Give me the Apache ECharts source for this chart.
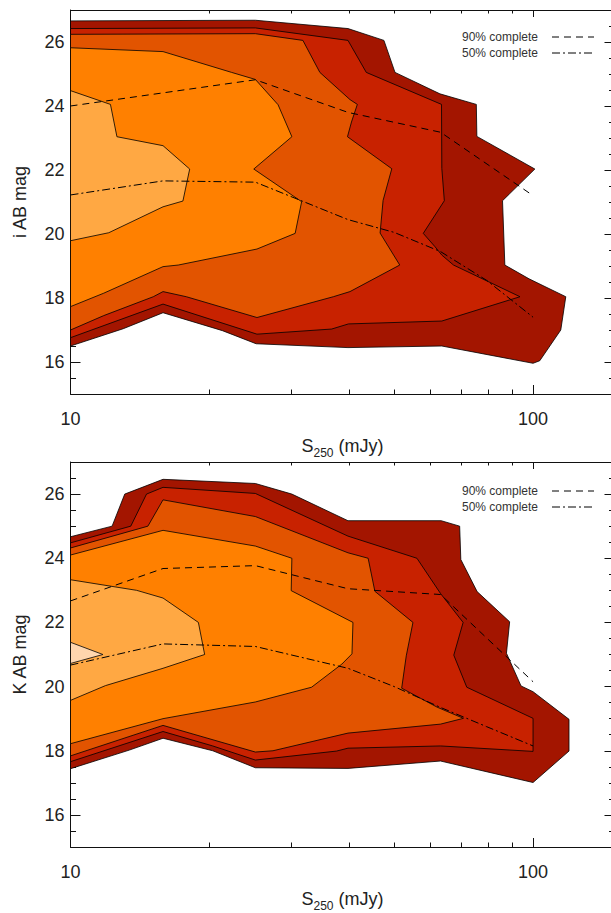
<!DOCTYPE html>
<html><head><meta charset="utf-8">
<script src="https://cdn.jsdelivr.net/npm/echarts@6/dist/echarts.min.js"></script>
<style>html,body{margin:0;padding:0;background:#fff}#c{width:611px;height:913px}</style>
</head><body><div id="c"></div>
<script>
// ---------- data (S250 in mJy, magnitude) ----------
const xLabelValues = [10, 100];
const xMinorTicks = [20, 30, 40, 50, 60, 70, 80, 90];
const yLabelValues = [16, 18, 20, 22, 24, 26];
const yMinorTicks = [15.5, 16.5, 17, 17.5, 18.5, 19, 19.5, 20.5, 21, 21.5, 22.5, 23, 23.5, 24.5, 25, 25.5, 26.5];
const xTitle = '{m|S}{s|250}{m| (mJy)}';
const yTitleTop = 'i AB mag';
const yTitleBottom = 'K AB mag';
const legendNames = ['90% complete', '50% complete'];

// i-band filled contour levels (outermost first)
const iLevel1 = [[10,26.66],[25.1,26.68],[39.8,26.42],[47.6,26.05],[50.3,25.05],[62.9,24.38],[75.4,24.05],[75.6,23.05],[100.9,22.03],[85.9,21.04],[86.9,19.03],[98,18.6],[117.7,18.04],[114.8,17.0],[103.4,16.04],[100,15.96],[63.5,16.5],[39.8,16.45],[25.2,16.57],[21.3,16.98],[15.85,17.54],[13.0,17.04],[10,16.5]];
const iLevel2 = [[10,26.42],[25.1,26.44],[39.8,26.05],[43.6,25.05],[63.4,24.05],[63.5,22.05],[64.3,21.04],[57.9,20.02],[61.4,19.6],[63.5,19.34],[67.3,19.03],[93.7,18.04],[63.5,17.28],[39.9,17.19],[36.7,17.03],[25.3,16.87],[15.85,17.81],[10,16.76]];
const iLevel3 = [[10,26.24],[25.1,26.26],[31.8,26.05],[34.6,25.05],[40.2,24.2],[41.7,24.05],[40.5,23.5],[39.7,23.04],[49.5,22.04],[47.4,21.05],[46.7,20.03],[51.5,19.03],[40.2,18.2],[37.0,18.04],[25.3,17.39],[17.8,18.04],[15.85,18.2],[15.1,18.04],[11.8,17.45],[10,17.0]];
const iLevel4 = [[10,25.82],[15.85,25.7],[22.3,25.05],[25.1,24.83],[28.1,24.04],[30.1,23.04],[24.9,22.03],[31.6,21.01],[30.6,20.02],[25.3,19.53],[17.1,19.03],[15.85,18.98],[11.8,18.15],[10,17.73]];
const iLevel5 = [[10,24.48],[12.2,24.05],[12.6,23.04],[15.85,22.76],[18.1,22.03],[17.5,21.03],[15.85,20.85],[12.1,20.04],[10,19.79]];
const iComplete90 = [[10,24.0],[25.1,24.82],[39.8,23.8],[63.1,23.18],[100,21.2]];
const iComplete50 = [[10,21.22],[15.85,21.66],[25.1,21.62],[39.8,20.45],[50.1,20.05],[63.1,19.45],[79.4,18.55],[100,17.4]];

// K-band filled contour levels (outermost first)
const kLevel1 = [[10,24.67],[12.3,25.0],[13.1,26.0],[15.85,26.46],[25.1,26.33],[30.1,26.0],[39.8,25.17],[63.3,25.17],[69.4,25.0],[69.8,23.96],[75.7,22.96],[89.0,22.02],[87.6,21.04],[94.2,20.02],[100,19.84],[119.6,18.98],[119.6,17.99],[100,17.01],[63.1,17.68],[39.8,17.45],[25.1,17.47],[20.3,18.0],[15.85,18.39],[13.4,18.02],[10,17.44]];
const kLevel2 = [[10,24.48],[13.5,25.0],[14.6,26.0],[15.85,26.21],[25.1,26.02],[39.8,24.69],[56.1,24.0],[63.1,22.9],[70.6,22.0],[67.4,20.98],[71.9,19.98],[100,19.01],[100,17.98],[63.1,18.15],[39.8,18.08],[37.6,17.99],[25.1,17.71],[20.3,18.15],[15.85,18.6],[10,17.66]];
const kLevel3 = [[10,24.32],[14.7,25.0],[15.85,25.82],[25.1,25.3],[39.8,24.17],[44.0,24.0],[45.5,22.97],[55.0,22.0],[53.2,20.96],[52.0,19.95],[62.0,19.36],[70.7,19.01],[63.1,18.83],[39.8,18.55],[27.4,18.0],[25.1,17.96],[15.85,18.79],[10,17.84]];
const kLevel4 = [[10,24.1],[15.85,24.87],[25.1,24.38],[30.1,24.0],[30.0,22.99],[40.8,22.0],[40.6,21.02],[38.6,20.7],[33.2,19.98],[25.1,19.52],[15.85,19.0],[10,18.22]];
const kLevel5 = [[10,23.33],[13.9,23.0],[15.85,22.76],[18.9,22.0],[19.5,21.0],[15.85,20.57],[11.9,20.03],[10,19.57]];
const kLevel6 = [[10,21.38],[11.75,21.0],[10,20.72]];
const kComplete90 = [[10,22.67],[15.85,23.68],[25.1,23.77],[39.8,23.05],[63.1,22.87],[100,20.15]];
const kComplete50 = [[10,20.67],[15.85,21.33],[25.1,21.25],[39.8,20.57],[50.1,20.0],[63.1,19.35],[79.4,18.75],[100,18.15]];

// ---------- styling ----------
const levelColors = ['#a31500', '#c82200', '#e25400', '#ff8000', '#ffa843', '#ffd6ae'];
const FONT = 'Liberation Sans, Arial, Helvetica, sans-serif';
const TXT = '#222';
const dash90 = [7, 5];
const dash50 = [8, 3, 2, 3];

const grids = [
  {left: 70.5, top: 10, width: 544, height: 384},
  {left: 70.5, top: 462, width: 544, height: 385}
];

const xAxes = [], yAxes = [], series = [];

function addAxes(gi, yTitle) {
  const base = {gridIndex: gi, type: 'log', logBase: 10, min: 10, max: 150, splitLine: {show: false}, minorTick: {show: false}};
  xAxes.push(Object.assign({}, base, {
    position: 'bottom',
    axisLine: {show: true, onZero: false, lineStyle: {color: '#111', width: 1}},
    axisTick: {show: true, inside: true, length: 9, customValues: xLabelValues, lineStyle: {color: '#111'}},
    axisLabel: {show: true, customValues: xLabelValues, margin: 16, fontSize: 18, fontFamily: FONT, color: TXT, showMinLabel: true, showMaxLabel: true, formatter: v => String(Math.round(v))},
    name: xTitle, nameLocation: 'middle', nameGap: 43,
    nameTextStyle: {fontFamily: FONT, color: TXT, rich: {
      m: {fontSize: 18, fontFamily: FONT, color: TXT, lineHeight: 22, verticalAlign: 'top'},
      s: {fontSize: 12, fontFamily: FONT, color: TXT, lineHeight: 6, verticalAlign: 'bottom'}
    }}
  }));
  xAxes.push(Object.assign({}, base, {
    position: 'bottom', axisLine: {show: false, onZero: false},
    axisTick: {show: true, inside: true, length: 4.5, customValues: xMinorTicks, lineStyle: {color: '#111'}},
    axisLabel: {show: false}
  }));
  xAxes.push(Object.assign({}, base, {
    position: 'top',
    axisLine: {show: true, onZero: false, lineStyle: {color: '#111', width: 1}},
    axisTick: {show: true, inside: true, length: 7, customValues: xLabelValues, lineStyle: {color: '#111'}},
    axisLabel: {show: false}
  }));
  xAxes.push(Object.assign({}, base, {
    position: 'top', axisLine: {show: false, onZero: false},
    axisTick: {show: true, inside: true, length: 3.5, customValues: xMinorTicks, lineStyle: {color: '#111'}},
    axisLabel: {show: false}
  }));

  const ybase = {gridIndex: gi, type: 'value', min: 15, max: 27, splitLine: {show: false}, minorTick: {show: false}};
  yAxes.push(Object.assign({}, ybase, {
    position: 'left',
    axisLine: {show: true, onZero: false, lineStyle: {color: '#111', width: 1}},
    axisTick: {show: true, inside: true, length: 10, customValues: yLabelValues, lineStyle: {color: '#111'}},
    axisLabel: {show: true, customValues: yLabelValues, margin: 6, fontSize: 18, fontFamily: FONT, color: TXT},
    name: yTitle, nameLocation: 'middle', nameGap: 42,
    nameTextStyle: {fontSize: 18, fontFamily: FONT, color: TXT}
  }));
  yAxes.push(Object.assign({}, ybase, {
    position: 'left', axisLine: {show: false, onZero: false},
    axisTick: {show: true, inside: true, length: 5.5, customValues: yMinorTicks, lineStyle: {color: '#111'}},
    axisLabel: {show: false}
  }));
  yAxes.push(Object.assign({}, ybase, {
    position: 'right',
    axisLine: {show: true, onZero: false, lineStyle: {color: '#111', width: 1}},
    axisTick: {show: true, inside: true, length: 10, customValues: yLabelValues, lineStyle: {color: '#111'}},
    axisLabel: {show: false}
  }));
  yAxes.push(Object.assign({}, ybase, {
    position: 'right', axisLine: {show: false, onZero: false},
    axisTick: {show: true, inside: true, length: 5.5, customValues: yMinorTicks, lineStyle: {color: '#111'}},
    axisLabel: {show: false}
  }));
}

function polygonSeries(gi, points, color, z) {
  return {
    type: 'custom', xAxisIndex: gi * 4, yAxisIndex: gi * 4,
    data: points, encode: {x: 0, y: 1}, clip: true, silent: true, z: z,
    renderItem: function (params, api) {
      if (params.dataIndex !== 0) return null;
      const pts = points.map(p => api.coord(p));
      return {type: 'polygon', shape: {points: pts},
        style: {fill: color, stroke: '#000', lineWidth: 0.8}};
    }
  };
}

function lineSeries(gi, name, points, dash) {
  return {
    type: 'line', name: name, xAxisIndex: gi * 4, yAxisIndex: gi * 4,
    data: points, symbol: 'none', silent: true, z: 20,
    lineStyle: {color: '#000', width: 1, type: dash}
  };
}

addAxes(0, yTitleTop);
addAxes(1, yTitleBottom);

[iLevel1, iLevel2, iLevel3, iLevel4, iLevel5].forEach((p, i) => series.push(polygonSeries(0, p, levelColors[i], 2 + i)));
[kLevel1, kLevel2, kLevel3, kLevel4, kLevel5, kLevel6].forEach((p, i) => series.push(polygonSeries(1, p, levelColors[i], 2 + i)));
series.push(lineSeries(0, legendNames[0], iComplete90, dash90));
series.push(lineSeries(0, legendNames[1], iComplete50, dash50));
series.push(lineSeries(1, legendNames[0], kComplete90, dash90));
series.push(lineSeries(1, legendNames[1], kComplete50, dash50));

// legend drawn as graphic (text left of line sample), one per panel
const legendRows = [[37, 53], [491, 507]];
const graphics = [];
legendRows.forEach(rows => {
  rows.forEach((yy, k) => {
    graphics.push({type: 'text', x: 462, y: yy, style: {text: legendNames[k], font: '12px ' + FONT, fill: '#333', align: 'left', verticalAlign: 'middle'}});
    graphics.push({type: 'line', shape: {x1: 552, y1: yy, x2: 594, y2: yy}, style: {stroke: '#000', lineWidth: 1, lineDash: k === 0 ? dash90 : dash50}});
  });
});

const chart = echarts.init(document.getElementById('c'), null, {renderer: 'svg', width: 611, height: 913});
chart.setOption({
  animation: false,
  backgroundColor: '#fff',
  grid: grids.map(g => Object.assign({containLabel: false, outerBoundsMode: 'none'}, g)),
  xAxis: xAxes,
  yAxis: yAxes,
  series: series,
  graphic: graphics
});
</script>
</body></html>
